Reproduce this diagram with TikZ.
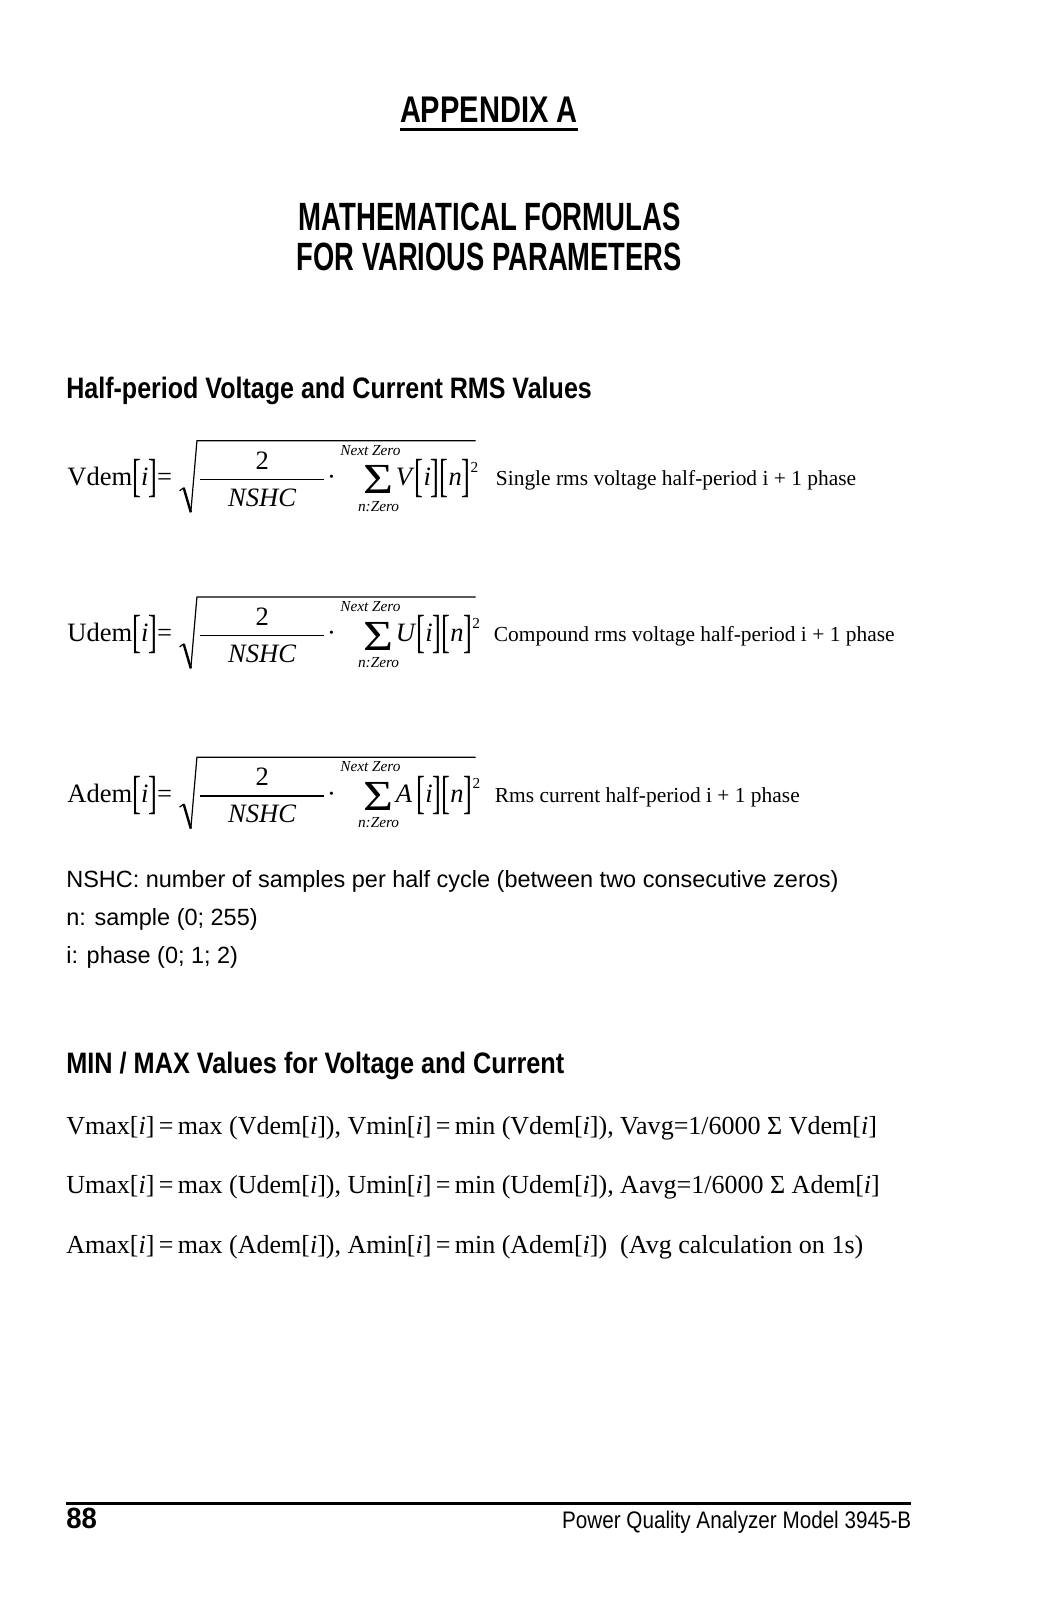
\documentclass[tikz,border=0pt]{standalone}
\usepackage{fontspec}
\usepackage{graphicx}
\setmainfont{Liberation Serif}
\setsansfont{Liberation Sans}
\newfontfamily\headfont[FakeStretch=0.8]{Liberation Sans}
\usetikzlibrary{positioning}
\newcommand*{\BigBr}[1]{\raisebox{-6pt}{\scalebox{1}[1.75]{#1}}}
\newcommand*{\FitHead}[3]{\resizebox{#1pt}{#2pt}{\headfont #3}}% #1 = width, #2 = height
\newcommand*{\RmsFormula}[6]{% #1 = prefix, #2 = shift, #3 = name, #4 = letter, #5 = remark x, #6 = remark
\begin{scope}[yshift=-#2pt]
\node [serif] (#1lhs) at (66,476) {#3\BigBr{[}\textit{i}\BigBr{]}=};
\draw [line width=2.4pt] (180,478) -- (187,502);
\draw [line width=1.2pt] (176,481) -- (180,478) (187,502) -- (193,432) -- (466,432);
\node [serif, anchor=base] (#1two) at (257,460) {2};
\draw [line width=1.4pt] (196,470) -- (318,470);
\node [serif, anchor=base] (#1nshc) at (257,496) {\textit{NSHC}};
\node [serif, anchor=base] (#1dot) at (325,476) {·};
\node [small, anchor=base] (#1next) at (363,446) {Next Zero};
\node [txt, anchor=base, font=\fontsize{42}{44}\selectfont] (#1sum) at (371,484) {\scalebox{1.2}[1]{Σ}};
\node [small, anchor=base] (#1zero) at (371,501) {n:Zero};
\node [serif] (#1term) at (388,476)
  {\textit{#4}\BigBr{[}\textit{i}\BigBr{]}\BigBr{[}\textit{n}\BigBr{]}\raisebox{13pt}{\fontsize{15}{17}\selectfont 2}};
\node [remark] (#1note) at (#5,476) {#6};
\end{scope}
}

\begin{document}
\begin{tikzpicture}[x=1pt, y=-1pt, scale=1.0204, transform shape,
  txt/.style={inner sep=0pt, outer sep=0pt, anchor=base west},
  serif/.style={txt, font=\fontsize{26}{30}\selectfont},
  small/.style={txt, font=\fontsize{15}{17}\selectfont\itshape},
  remark/.style={txt, font=\fontsize{21}{25}\selectfont},
  body/.style={txt, font=\sffamily\fontsize{23}{27}\selectfont},
  eqline/.style={txt, font=\fontsize{25.5}{30}\selectfont}]

  \fill [white] (0,0) rectangle (1015.3,1568);

  % titles
  \node [txt] (appendix) at (392,120) {\FitHead{174}{25}{\bfseries APPENDIX A}};
  \draw [line width=2.5pt] (appendix.south west) ++(0,7) -- ++(174,0);
  \node [txt] (title1) at (293,226) {\FitHead{374}{27}{\bfseries MATHEMATICAL FORMULAS}};
  \node [txt] (title2) at (291,265) {\FitHead{377}{27}{\bfseries FOR VARIOUS PARAMETERS}};

  % half-period values
  \node [txt] (rmshead) at (65,391) {\FitHead{515}{21}{\bfseries Half-period Voltage and Current RMS Values}};
  \RmsFormula{v}{0}{Vdem}{V}{486}{Single rms voltage half-period i + 1 phase}
  \RmsFormula{u}{153}{Udem}{U}{484}{Compound rms voltage half-period i + 1 phase}
  \RmsFormula{a}{310}{Adem}{A\,}{485}{Rms current half-period i + 1 phase}

  \node [body] (nshc) at (65,870) {NSHC: number of samples per half cycle (between two consecutive zeros)};
  \node [body] (nsample) at (65,907) {n: sample (0; 255)};
  \node [body] (iphase) at (65,944) {i: phase (0; 1; 2)};

  % min / max values
  \node [txt] (minmaxhead) at (65,1052) {\FitHead{488}{21}{\bfseries MIN / MAX Values for Voltage and Current}};
  \node [eqline] (vline) at (65,1112) {Vmax[\textit{i}]\,=\,max (Vdem[\textit{i}]), Vmin[\textit{i}]\,=\,min (Vdem[\textit{i}]), Vavg=1/6000 Σ Vdem[\textit{i}]};
  \node [eqline] (uline) at (65,1170) {Umax[\textit{i}]\,=\,max (Udem[\textit{i}]), Umin[\textit{i}]\,=\,min (Udem[\textit{i}]), Aavg=1/6000 Σ Adem[\textit{i}]};
  \node [eqline] (aline) at (65,1228) {Amax[\textit{i}]\,=\,max (Adem[\textit{i}]), Amin[\textit{i}]\,=\,min (Adem[\textit{i}])\ \ (Avg calculation on 1s)};

  % footer
  \draw [line width=3pt] (65,1473) -- (893,1473);
  \node [txt] (pagenum) at (65,1498) {\FitHead{30}{20}{\bfseries 88}};
  \node [txt, anchor=base east] (model) at (893,1498) {\FitHead{342}{17}{Power Quality Analyzer Model 3945-B}};

\end{tikzpicture}
\end{document}
